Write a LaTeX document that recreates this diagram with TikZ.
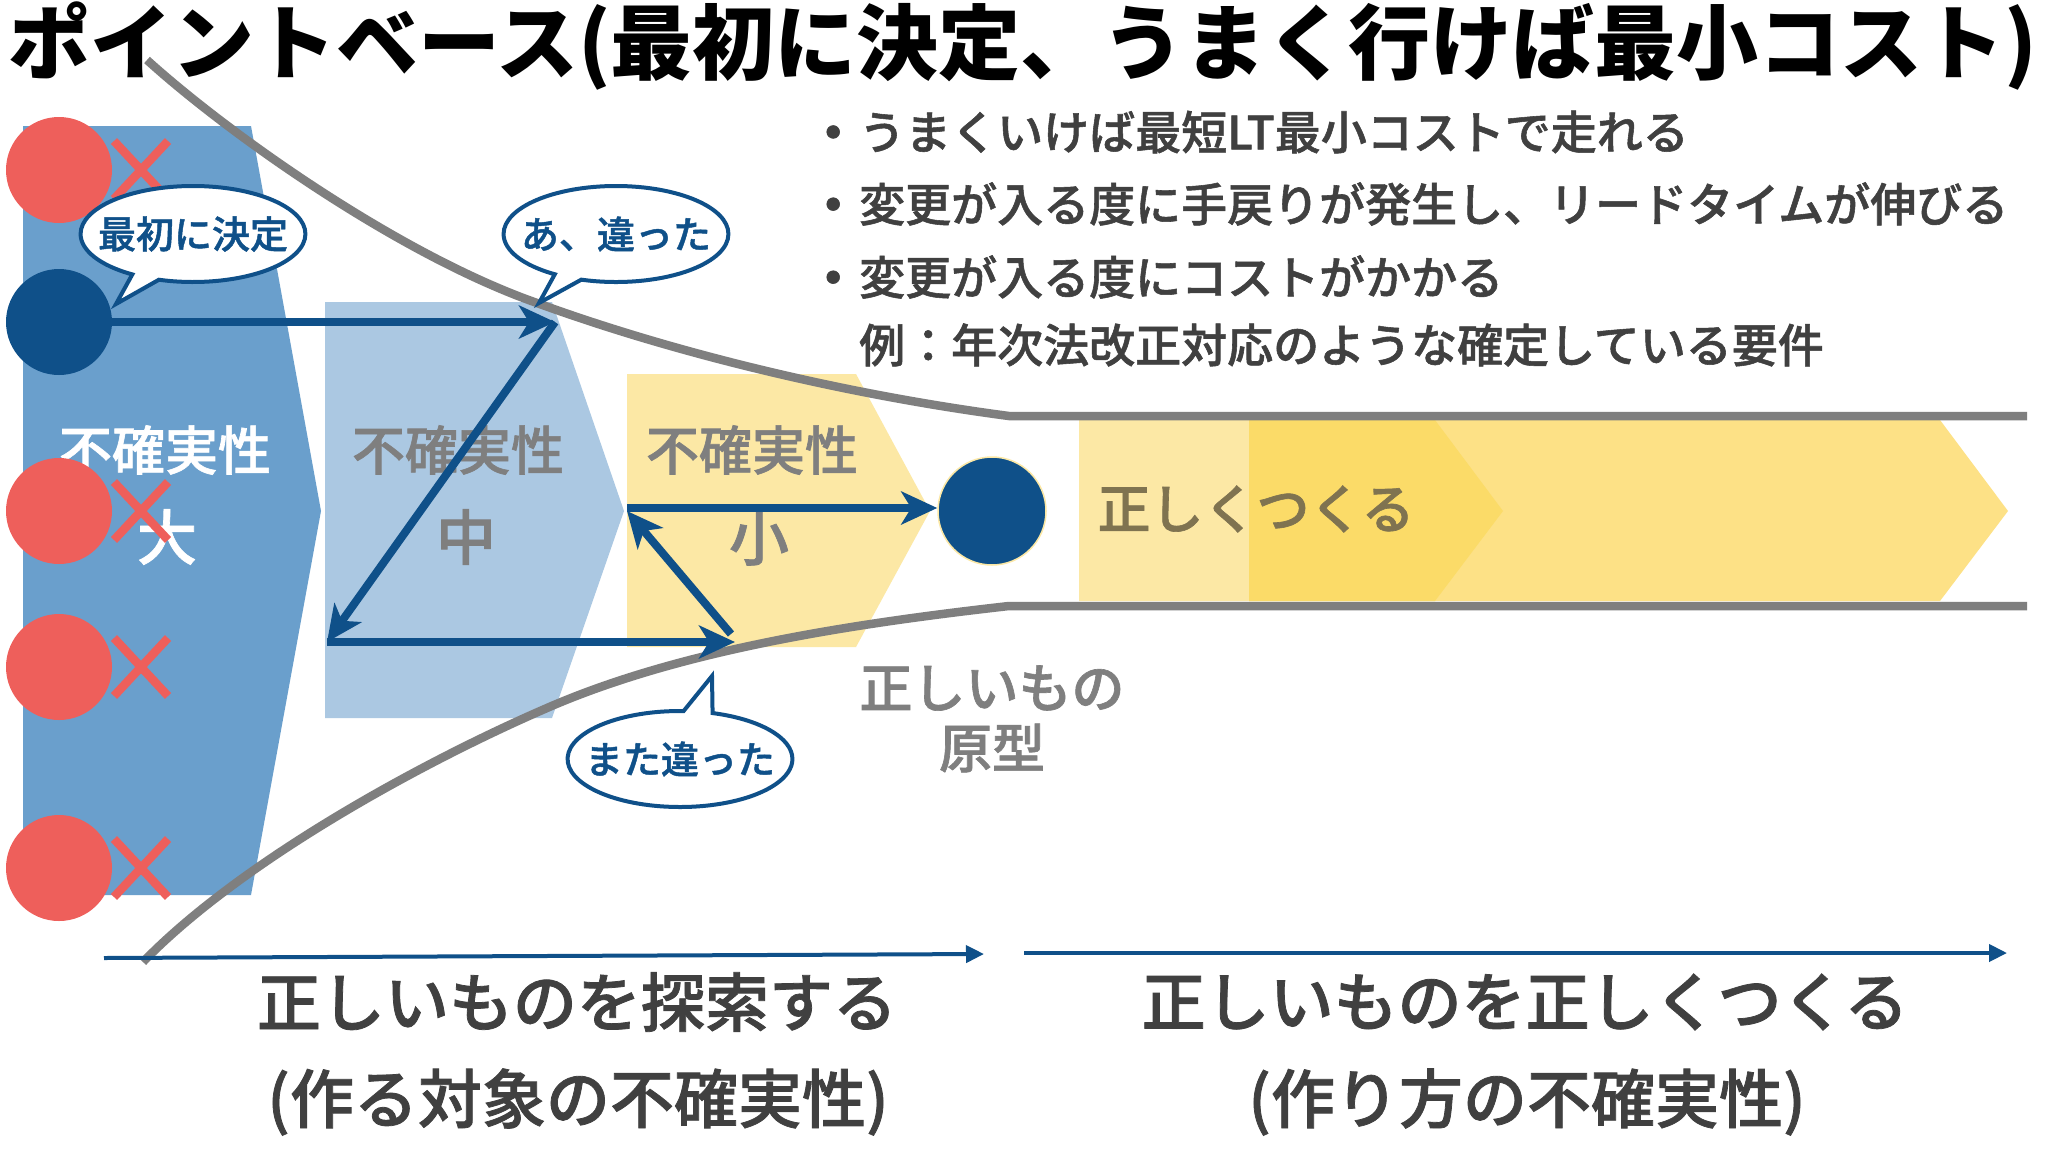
\documentclass[tikz,border=0pt]{standalone}
\usepackage{fontspec}
\setmainfont{Noto Sans CJK JP}
\newfontfamily\medfont[FakeBold=1.2]{Noto Sans CJK JP Medium}
\usetikzlibrary{arrows.meta,calc,positioning,shapes.callouts}
\newcommand{\fsz}[1]{\fontsize{#1}{#1}\selectfont}
\definecolor{navy}{HTML}{0F5089}
\definecolor{bigblue}{HTML}{6A9FCC}
\definecolor{midblue}{HTML}{ABC8E2}
\definecolor{palegold}{HTML}{FCE8A5}
\definecolor{gold}{HTML}{FDE186}
\definecolor{deepgold}{HTML}{FBDB68}
\definecolor{wrong}{HTML}{EE5F5B}
\definecolor{funnel}{HTML}{7F7F7F}
\definecolor{ink}{HTML}{404040}
\definecolor{buildink}{HTML}{7F7350}
\tikzset{
  idea/.style={circle,fill=wrong,minimum size=106pt,inner sep=0pt},
  pick/.style={circle,fill=navy,minimum size=106pt,inner sep=0pt},
  cross/.style={wrong,line width=8.5pt},
  walk/.style={navy,line width=8pt,-{Stealth[length=36pt,width=33pt,inset=10pt]}},
  span/.style={navy,line width=4pt,-{Triangle[length=18pt,width=17pt]}},
  wall/.style={funnel,line width=8.5pt},
  bubble/.style={ellipse callout,draw=navy,fill=white,line width=4pt,minimum width=224pt,minimum height=96pt,inner ysep=0pt,inner xsep=-15.5pt,text=navy,font=\medfont\fsz{38pt}},
  note/.style={text=ink,anchor=west,inner sep=0pt,font=\medfont\fsz{46pt}},
  sizelabel/.style={text=funnel,inner sep=0pt,font=\medfont\fsz{53pt}},
  sizemark/.style={text=funnel,inner sep=0pt,font=\medfont\fsz{60pt}},
  phase/.style={text=ink,inner sep=0pt,font=\medfont\fsz{64pt}},
}
\begin{document}
\begin{tikzpicture}[x=1pt,y=-1pt]
  \useasboundingbox (0,0) rectangle (2048,1152);
  \fill[white] (0,0) rectangle (2048,1152);
  \node[inner sep=0pt,text=black,font=\bfseries\fsz{82pt}] (title) at (1023,46) {ポイントベース(最初に決定、うまく行けば最小コスト)};
  % uncertainty arrows
  \fill[bigblue] (23,126)--(251,126)--(321,511)--(251,895)--(23,895)--cycle;
  \fill[midblue] (325,302)--(552,302)--(624,511)--(552,718)--(325,718)--cycle;
  \fill[palegold] (627,374)--(856,374)--(930,511)--(856,647)--(627,647)--cycle;
  \fill[palegold] (1079,420)--(1435,420)--(1503,511)--(1435,601)--(1079,601)--cycle;
  \fill[gold] (1249,420)--(1940,420)--(2008,511)--(1940,601)--(1249,601)--cycle;
  \fill[deepgold] (1249,420)--(1435,420)--(1503,511)--(1435,601)--(1249,601)--cycle;
  \node[sizelabel,text=white] (bigtext) at (165,450) {不確実性};
  \node[sizemark,text=white] (bigmark) at (167,537) {大};
  \node[sizelabel] (midtext) at (458,450) {不確実性};
  \node[sizemark] (midmark) at (466,537) {中};
  \node[sizelabel] (smalltext) at (752,450) {不確実性};
  \node[sizemark] (smallmark) at (759,538) {小};
  \node[inner sep=0pt,text=buildink,font=\medfont\fsz{53pt}] (build) at (1256,509) {正しくつくる};
  % funnel
  \draw[wall] (147,60) .. controls (230,135) and (400,255) .. (537,303) .. controls (680,355) and (850,395) .. (1009,416)--(2027,416);
  \draw[wall] (143,962) .. controls (240,862) and (420,763) .. (547,708) .. controls (680,650) and (850,624) .. (1009,606)--(2027,606);
  % candidates
  \foreach \name/\ypos in {ideaA/170,ideaB/511,ideaC/667,ideaD/868}{
    \node[idea] (\name) at (59,\ypos) {};
    \draw[cross] (114,\ypos-29)--(168,\ypos+29);
    \draw[cross] (168,\ypos-29)--(114,\ypos+29);
  }
  \node[pick] (first) at (59,322) {};
  \node[pick,draw=palegold,line width=1.5pt,minimum size=108pt] (goal) at (992,511) {};
  \coordinate (hitA) at (555,322);
  \coordinate (backA) at (327,642);
  \coordinate (hitB) at (735,642);
  \coordinate (hitBup) at (731,634);
  \coordinate (backB) at (627,511);
  \coordinate (backBout) at (627,508);
  \draw[walk] (first.east|-hitA)--(hitA);
  \draw[walk] (hitA)--(backA);
  \draw[walk] (backA)--(hitB);
  \draw[walk] (hitBup)--(backB);
  \draw[walk] (backBout)--(goal.west|-backBout);
  % speech bubbles
  \coordinate (tipA) at (116,304);
  \coordinate (tipB) at (539,303);
  \coordinate (tipC) at (712,676);
  \node[bubble,callout absolute pointer={(tipA)}] (saidA) at (193,234) {最初に決定};
  \node[bubble,callout absolute pointer={(tipB)}] (saidB) at (616,234) {あ、違った};
  \node[bubble,callout absolute pointer={(tipC)}] (saidC) at (680,759) {また違った};
  % notes
  \node[note] (noteA) at (810,132) {{\bfseries ・}\hspace{3pt}うまくいけば最短LT最小コストで走れる};
  \node[note] (noteB) at (810,204) {{\bfseries ・}\hspace{3pt}変更が入る度に手戻りが発生し、リードタイムが伸びる};
  \node[note] (noteC) at (810,277) {{\bfseries ・}\hspace{3pt}変更が入る度にコストがかかる};
  \node[note] (noteD) at (859,345) {例：年次法改正対応のような確定している要件};
  \node[inner sep=0pt,text=funnel,font=\medfont\fsz{53pt}] (protoA) at (992,688) {正しいもの};
  \node[inner sep=0pt,text=funnel,font=\medfont\fsz{53pt}] (protoB) at (992,748) {原型};
  % phases
  \coordinate (spanA) at (104,958);
  \coordinate (spanAend) at (984,954);
  \coordinate (spanB) at (1024,953);
  \coordinate (spanBend) at (2007,953);
  \draw[span] (spanA)--(spanAend);
  \draw[span] (spanB)--(spanBend);
  \node[phase] (searchA) at (577,1002) {正しいものを探索する};
  \node[phase] (searchB) at (578,1102) {(作る対象の不確実性)};
  \node[phase] (makeA) at (1525,1002) {正しいものを正しくつくる};
  \node[phase] (makeB) at (1527,1102) {(作り方の不確実性)};
\end{tikzpicture}
\end{document}
